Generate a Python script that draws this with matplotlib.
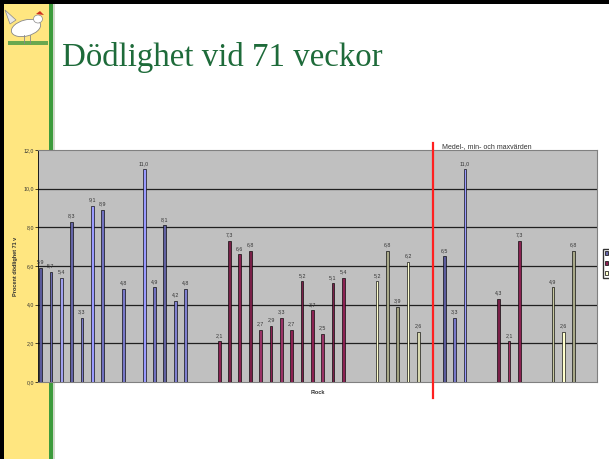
import numpy as np
import matplotlib
matplotlib.use('Agg')
import matplotlib.pyplot as plt
from matplotlib.patches import Rectangle, Ellipse, Polygon
from matplotlib.lines import Line2D

plt.rcParams['font.family'] = ['Liberation Sans', 'DejaVu Sans']

# ==========================================
# データ
# ==========================================
n_flocks = 54

blue_idx = [0, 1, 2, 3, 4, 5, 6, 8, 10, 11, 12, 13, 14, 39, 40, 41]
blue_val = [5.9, 5.7, 5.4, 8.3, 3.3, 9.1, 8.9, 4.8, 11.0, 4.9, 8.1, 4.2, 4.8, 6.5, 3.3, 11.0]

maroon_idx = [17, 18, 19, 20, 21, 22, 23, 24, 25, 26, 27, 28, 29, 44, 45, 46]
maroon_val = [2.1, 7.3, 6.6, 6.8, 2.7, 2.9, 3.3, 2.7, 5.2, 3.7, 2.5, 5.1, 5.4, 4.3, 2.1, 7.3]

yellow_idx = [32, 33, 34, 35, 36, 49, 50, 51]
yellow_val = [5.2, 6.8, 3.9, 6.2, 2.6, 4.9, 2.6, 6.8]

y_ticks = [0, 2, 4, 6, 8, 10, 12]

# 色（棒ごとに少しずつ違う）
blue_cols = ['#5b5b9b', '#6c6cb4', '#a0a0f0', '#6464a8', '#7878c8', '#9a9aff', '#7070c0',
             '#7878c8', '#9a9aff', '#7070c0', '#6060a0', '#8080d0', '#8080d0',
             '#5b5b9b', '#7878c8', '#9a9aff']
maroon_cols = ['#8b2252', '#7a2048', '#8b2252', '#7a2048', '#993366', '#8b2252', '#993366',
               '#8b2252', '#7a2048', '#8b2252', '#993366', '#7a2048', '#8b2252',
               '#7a2048', '#a03060', '#8b2252']
yellow_cols = ['#ffffcc', '#a8a888', '#a0a080', '#ffffd0', '#d8d8b0',
               '#c8c8a0', '#ffffcc', '#a8a888']

W, H = 609, 459
fig = plt.figure(figsize=(W / 100, H / 100), dpi=100)


def fx(x):
    return x / W


def fy(y):
    return 1 - y / H


# ==========================================
# スライド背景
# ==========================================
bg = fig.add_axes([0, 0, 1, 1], zorder=0)
bg.set_xlim(0, W)
bg.set_ylim(H, 0)
bg.axis('off')
bg.add_patch(Rectangle((4, 0), 45, H, color='#ffe680', lw=0))
bg.add_patch(Rectangle((49, 0), 3.5, H, color='#3c9b3c', lw=0))
bg.add_patch(Rectangle((52.5, 0), 2, H, color='#d0d8c8', lw=0))
bg.add_patch(Rectangle((0, 0), 4, H, color='black', lw=0))
bg.add_patch(Rectangle((0, 0), W, 3.5, color='black', lw=0))

# 鶏のイラスト（簡略）
bg.add_patch(Ellipse((26, 28), 30, 16, angle=-15, fc='white', ec='#888888', lw=0.6))
bg.add_patch(Ellipse((38, 19), 9, 8, fc='white', ec='#888888', lw=0.5))
bg.add_patch(Polygon([[36, 14], [40, 11], [44, 15]], closed=True, fc='#d03020', lw=0))
bg.add_patch(Polygon([[10, 24], [5, 10], [16, 20]], closed=True, fc='#e8e8e8', ec='#888888', lw=0.5))
bg.plot([24, 24], [35, 43], color='#888888', lw=0.6)
bg.plot([30, 30], [35, 43], color='#888888', lw=0.6)
bg.add_patch(Rectangle((8, 41), 40, 4, color='#6aa84f', lw=0))

bg.text(62, 66, 'Dödlighet vid 71 veckor', fontsize=23.7, color='#1e6b3a',
        family=['Liberation Serif', 'DejaVu Serif'], va='baseline', ha='left')

# ==========================================
# グラフ本体
# ==========================================
left, right, top, bottom = 38, 597, 150, 382
ax = fig.add_axes([fx(left), fy(bottom), fx(right - left), (bottom - top) / H], zorder=1)
ax.set_facecolor('#c0c0c0')

bw = 0.27
series = [(blue_idx, blue_val, blue_cols, -0.25),
          (maroon_idx, maroon_val, maroon_cols, 0.0),
          (yellow_idx, yellow_val, yellow_cols, 0.25)]
for idx, val, cols, off in series:
    xs = np.array(idx) + off
    ax.bar(xs, val, width=bw, color=cols, edgecolor='black', linewidth=0.45, zorder=3)
    for x, v in zip(xs, val):
        ax.annotate(f'{v:.1f}'.replace('.', ','), (x, v), xytext=(0, 2.5),
                    textcoords='offset points', ha='center', va='bottom',
                    fontsize=3.8, color='#333333', zorder=4)

ax.set_xlim(-0.5, n_flocks - 0.5)
ax.set_ylim(0, 12)
ax.set_yticks(y_ticks)
ax.set_yticklabels([f'{t:.1f}'.replace('.', ',') for t in y_ticks], fontsize=3.8, color='#333333')
ax.tick_params(axis='y', length=2, width=0.5, pad=1)
ax.set_xticks([])
for t in y_ticks[1:-1]:
    ax.axhline(t, color='#202020', lw=0.9, zorder=1)
for s in ax.spines.values():
    s.set_color('#808080')
    s.set_linewidth(0.8)
ax.spines['left'].set_color('black')
ax.spines['left'].set_linewidth(0.6)

ax.set_xlabel('Flock', fontsize=4, fontweight='bold', color='#333333', labelpad=6)
ax.set_ylabel('Procent dödlighet 71 v', fontsize=4, fontweight='bold', color='#333333', labelpad=4)

# 凡例（右端で切れている、文字は画面外）
handles = [Rectangle((0, 0), 1, 1, fc=c, ec='black', lw=0.5) for c in ['#6666aa', '#8b2252', '#ffffcc']]
fig.legend(handles, ['', '', ''], loc='upper left', bbox_to_anchor=(fx(600), fy(246)),
           fontsize=4, frameon=True, edgecolor='black', fancybox=False,
           handlelength=0.6, handleheight=0.6, borderpad=0.4, labelspacing=0.9)

# 赤い区切り線と注釈
fig.add_artist(Line2D([fx(433), fx(433)], [fy(143), fy(398)], color='#ff2020', lw=1.6, zorder=5))
fig.text(fx(442), fy(147), 'Medel-, min- och maxvärden', fontsize=5, color='#333333',
         ha='left', va='center', zorder=5)

fig.savefig('out.png', dpi=100)
